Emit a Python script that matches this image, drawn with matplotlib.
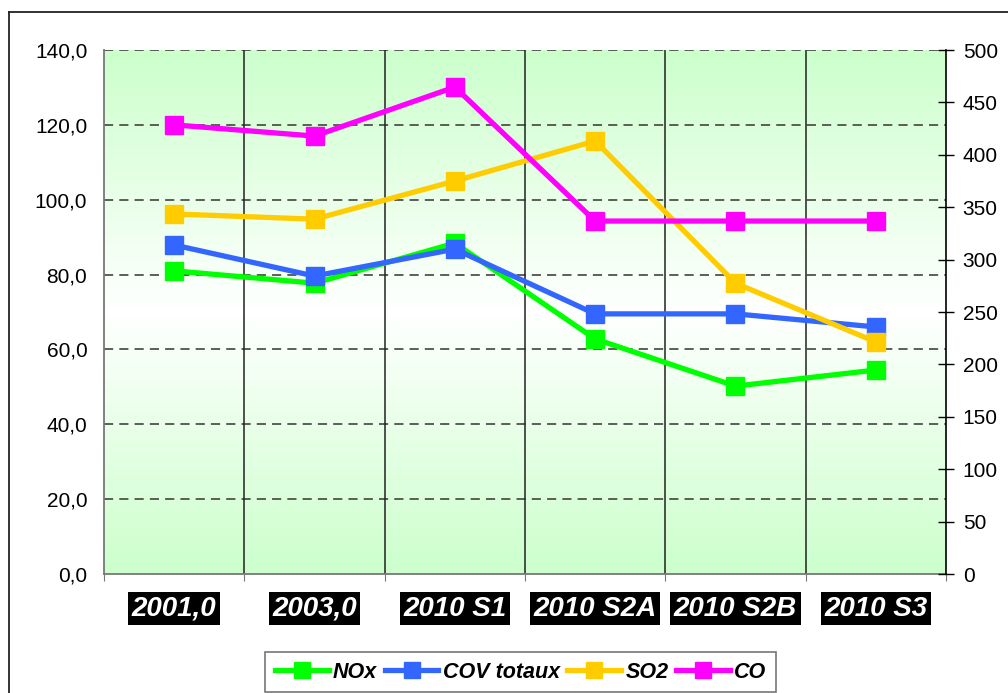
import matplotlib
matplotlib.use("Agg")
import matplotlib.pyplot as plt
import numpy as np
from matplotlib.lines import Line2D
from matplotlib.ticker import FuncFormatter

categories = ["2001,0", "2003,0", "2010 S1", "2010 S2A", "2010 S2B", "2010 S3"]
nox = [81.0, 77.7, 88.4, 62.8, 50.2, 54.5]
cov = [87.9, 79.6, 86.8, 69.5, 69.5, 66.0]
so2 = [96.2, 94.8, 105.0, 115.7, 77.7, 62.0]
co = [120.0, 117.0, 130.1, 94.3, 94.3, 94.3]
series_names = ["NOx", "COV totaux", "SO2", "CO"]
series_values = [nox, cov, so2, co]
series_colors = ["#00ff00", "#3366ff", "#ffcc00", "#ff00ff"]

plt.rcParams['font.family'] = ['Liberation Sans', 'DejaVu Sans']

W, H = 1008, 693
fig = plt.figure(figsize=(W / 100, H / 100), dpi=100)
L, R, T, B = 104, 946, 50, 574
pos = [L / W, 1 - B / H, (R - L) / W, (B - T) / H]

# gradient background
bg = fig.add_axes(pos, zorder=0)
t = np.linspace(0, 1, 256)
w = np.abs(t - 0.5) * 2
top = np.array([204, 255, 204]) / 255
white = np.array([255, 255, 255]) / 255
cols = white[None, :] * (1 - w[:, None]) + top[None, :] * w[:, None]
img = np.repeat(cols[:, None, :], 2, axis=1)
bg.imshow(img, aspect='auto', extent=[0, 1, 0, 1], interpolation='bilinear')
bg.set_axis_off()

ax = fig.add_axes(pos, zorder=1)
ax.set_facecolor('none')
x = np.arange(len(categories))
ax.set_xlim(-0.5, len(categories) - 0.5)
ax.set_ylim(0, 140)
ax.set_yticks(np.arange(0, 141, 20))
ax.yaxis.set_major_formatter(FuncFormatter(lambda v, p: f"{v:.1f}".replace('.', ',')))
ax.tick_params(axis='y', length=0, labelsize=15, pad=12, colors='black')
ax.set_xticks(np.arange(-0.5, len(categories), 1.0))
ax.set_xticklabels([])
ax.tick_params(axis='x', length=5, color='#777777', direction='out')

for yv in np.arange(20, 141, 20):
    ax.axhline(yv, color='#333333', lw=1.1, ls=(0, (6, 4)), zorder=1)
for xv in np.arange(0.5, len(categories) - 0.5, 1.0):
    ax.axvline(xv, color='#222222', lw=1.1, zorder=1)

for name, vals, c in zip(series_names, series_values, series_colors):
    ax.plot(x, vals, color=c, lw=3.8, marker='s', ms=13, mec=c, mfc=c,
            solid_joinstyle='miter', zorder=3, label=name)

for s in ['top', 'right']:
    ax.spines[s].set_visible(False)
ax.spines['left'].set_color('#777777')
ax.spines['left'].set_linewidth(1.3)
ax.spines['bottom'].set_color('#777777')
ax.spines['bottom'].set_linewidth(1.3)

for xi, lab in zip(x, categories):
    ax.text(xi, -9.3, lab, ha='center', va='center', fontsize=20,
            fontweight='bold', fontstyle='italic', color='white',
            bbox=dict(boxstyle='square,pad=0.13', fc='black', ec='none'))

ax2 = ax.twinx()
ax2.set_ylim(0, 500)
ax2.set_yticks(np.arange(0, 501, 50))
ax2.tick_params(axis='y', direction='inout', length=12, width=1, labelsize=15, pad=6)
for s in ['top', 'left', 'bottom']:
    ax2.spines[s].set_visible(False)
ax2.spines['right'].set_color('black')
ax2.spines['right'].set_linewidth(1.2)

# outer frame (left and top edges visible)
fig.add_artist(Line2D([9 / W, 9 / W], [0, 1 - 12 / H], color='#222222', lw=1.3))
fig.add_artist(Line2D([9 / W, 1], [1 - 12 / H, 1 - 12 / H], color='#222222', lw=1.3))

handles = [Line2D([0], [0], color=c, lw=3.8, marker='s', ms=12, mec=c, mfc=c)
           for c in series_colors]
leg = fig.legend(handles, series_names, loc='upper left',
                 bbox_to_anchor=(265 / W, 1 - 652 / H), ncol=4, frameon=True,
                 fancybox=False, edgecolor='#777777', framealpha=1,
                 prop=dict(size=15.5, weight='bold', style='italic'),
                 handlelength=2.5, handletextpad=0.2, columnspacing=0.35,
                 borderpad=0.45, borderaxespad=0)
leg.get_frame().set_linewidth(1.2)

fig.savefig("out.png", dpi=100)
